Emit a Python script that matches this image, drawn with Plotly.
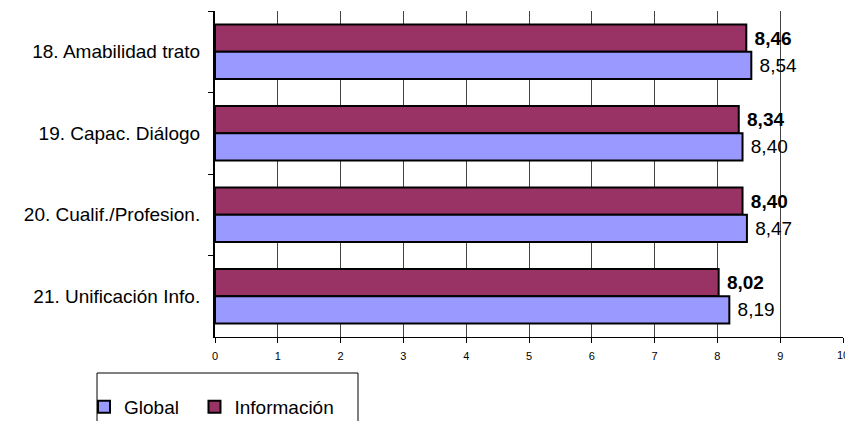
import plotly.graph_objects as go

categories = ["18. Amabilidad trato", "19. Capac. Diálogo", "20. Cualif./Profesion.", "21. Unificación Info."]
global_vals = [8.54, 8.40, 8.47, 8.19]
info_vals = [8.46, 8.34, 8.40, 8.02]
x_ticks = list(range(0, 11))

FONT = "Liberation Sans, Arial, sans-serif"
NB = "\u00a0"

fig = go.Figure()
fig.add_trace(go.Bar(
    name="Información", y=categories, x=info_vals, orientation="h",
    marker=dict(color="#993366", line=dict(color="#000000", width=2)),
    texttemplate=NB + "<b>%{x:.2f}</b>", textposition="outside", constraintext="none",
    textfont=dict(family=FONT, size=19, color="#000000"), cliponaxis=False,
))
fig.add_trace(go.Bar(
    name="Global" + NB * 2, y=categories, x=global_vals, orientation="h",
    marker=dict(color="#9999FF", line=dict(color="#000000", width=2)),
    texttemplate=NB + "%{x:.2f}", textposition="outside", constraintext="none",
    textfont=dict(family=FONT, size=19, color="#000000"), cliponaxis=False,
))

fig.update_layout(
    width=845, height=421,
    margin=dict(l=215, r=2, t=11, b=84, autoexpand=False),
    paper_bgcolor="white", plot_bgcolor="white",
    separators=",.",
    barmode="group", bargap=0.33, bargroupgap=0,
    font=dict(family=FONT, color="#000000"),
    showlegend=True,
    legend=dict(
        orientation="h", traceorder="reversed",
        xref="container", yref="container",
        x=84 / 845, y=1 - 388 / 421, xanchor="left", yanchor="top",
        font=dict(family=FONT, size=19, color="#000000"),
        bgcolor="rgba(0,0,0,0)", borderwidth=0,
        itemwidth=30,
    ),
    xaxis=dict(
        range=[0, 10], tickvals=x_ticks, ticktext=[str(v) for v in x_ticks],
        ticks="outside", ticklen=5, tickcolor="#000000",
        showline=True, linecolor="#000000", linewidth=1,
        showgrid=True, gridcolor="#444444", gridwidth=1,
        tickfont=dict(family=FONT, size=11, color="#000000"),
        ticklabelstandoff=4,
        zeroline=False, automargin=False,
    ),
    yaxis=dict(
        type="category", categoryorder="array", categoryarray=categories,
        range=[3.5, -0.5],
        ticks="outside", ticklen=5, tickcolor="#000000", tickson="boundaries",
        showline=True, linecolor="#000000", linewidth=2,
        showgrid=False, ticklabelstandoff=9, automargin=False,
        tickfont=dict(family=FONT, size=19, color="#000000"),
    ),
    shapes=[dict(
        type="rect", xref="paper", yref="paper",
        x0=(97 - 215) / 628, x1=(358 - 215) / 628,
        y0=(337 - 430) / 326, y1=(337 - 373) / 326,
        line=dict(color="#000000", width=1), fillcolor="rgba(0,0,0,0)",
    )],
    annotations=[dict(
        x=x_ticks[-1], xref="x", y=(337 - 355) / 326, yref="paper",
        text=str(x_ticks[-1]), showarrow=False, xanchor="center", yanchor="middle",
        font=dict(family=FONT, size=11, color="#000000"),
    )],
)

fig.write_html("out.html", post_script="document.body.style.margin='0px';",
               config={"displayModeBar": False})
